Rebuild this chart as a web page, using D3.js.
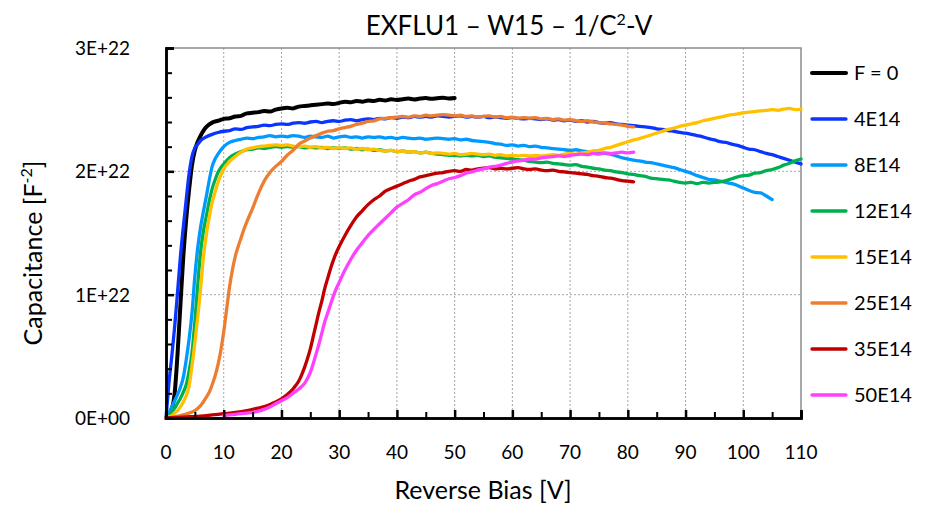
<!DOCTYPE html>
<html>
<head>
<meta charset="utf-8">
<script src="https://cdn.jsdelivr.net/npm/d3@7/dist/d3.min.js"></script>
<style>
  html, body { margin: 0; padding: 0; background: #fff; }
  svg { display: block; font-family: Lato, "Open Sans", sans-serif; }
</style>
</head>
<body>
<svg id="chart" width="937" height="505"></svg>
<script>
// 1/C^2 vs reverse bias for EXFLU1 wafer 15, one curve per fluence.
// Values are given in units of 1E22 F^-2, bias in volts.
const UNIT = 1e22;

const seriesNames = ["F = 0", "4E14", "8E14", "12E14", "15E14", "25E14", "35E14", "50E14"];
const seriesColors = ["#000000", "#0A35FF", "#0099FF", "#00B050", "#FFC000", "#ED7D31", "#C00000", "#FF40FF"];

const xTicks = [0, 10, 20, 30, 40, 50, 60, 70, 80, 90, 100, 110];
const xMinorTicks = [5, 15, 25, 35, 45, 55, 65, 75, 85, 95, 105];
const yTicks = [0, 1e22, 2e22, 3e22];
const yTickLabels = ["0E+00", "1E+22", "2E+22", "3E+22"];
const yMinorTicks = [0.2e22, 0.4e22, 0.6e22, 0.8e22, 1.2e22, 1.4e22, 1.6e22, 1.8e22,
                     2.2e22, 2.4e22, 2.6e22, 2.8e22];

const fluence0 = [[0,0],[0.5,0.03],[1,0.07],[1.5,0.2],[2,0.52],[2.5,0.92],[3,1.31],[3.5,1.61],[4,1.85],[4.5,2.05],
  [5,2.17],[5.5,2.24],[6,2.29],[6.5,2.33],[7,2.36],[7.5,2.38],[8,2.395],[9,2.41],[10,2.425],[11,2.43],[12,2.445],
  [13,2.45],[14,2.47],[15,2.475],[16,2.48],[17,2.49],[18,2.485],[19,2.5],[20,2.51],[21,2.515],[22,2.51],[23,2.525],
  [24,2.53],[25,2.535],[26,2.54],[27,2.545],[28,2.55],[29,2.545],[30,2.555],[31,2.565],[32,2.56],[33,2.57],[34,2.565],
  [35,2.575],[36,2.57],[37,2.58],[38,2.575],[39,2.585],[40,2.578],[41,2.585],[42,2.59],[43,2.583],[44,2.59],[45,2.594],
  [46,2.588],[47,2.593],[48,2.597],[49,2.59],[50,2.594]];

const fluence4 = [[0,0],[0.5,0.28],[1,0.5],[1.5,0.74],[2,1.02],[2.5,1.31],[3,1.55],[3.5,1.77],[4,1.98],[4.5,2.12],
  [5,2.19],[5.5,2.22],[6,2.25],[7,2.28],[8,2.3],[9,2.315],[10,2.325],[11,2.33],[12,2.345],[13,2.34],[14,2.355],
  [15,2.36],[16,2.365],[17,2.375],[18,2.37],[19,2.38],[20,2.385],[21,2.38],[22,2.39],[23,2.395],[24,2.39],[25,2.4],
  [26,2.405],[27,2.395],[28,2.405],[29,2.41],[30,2.405],[31,2.415],[32,2.42],[33,2.41],[34,2.42],[35,2.425],[36,2.42],
  [37,2.43],[38,2.425],[39,2.435],[40,2.43],[41,2.44],[42,2.435],[43,2.445],[44,2.44],[45,2.445],[46,2.44],[47,2.45],
  [48,2.445],[49,2.44],[50,2.445],[51,2.45],[52,2.44],[53,2.445],[54,2.44],[55,2.445],[56,2.435],[57,2.44],[58,2.435],
  [59,2.43],[60,2.435],[61,2.43],[62,2.425],[63,2.43],[64,2.425],[65,2.42],[66,2.425],[67,2.415],[68,2.42],[69,2.41],
  [70,2.415],[71,2.405],[72,2.41],[73,2.4],[74,2.405],[75,2.395],[76,2.39],[77,2.395],[78,2.385],[79,2.38],[80,2.375],
  [81,2.37],[82,2.365],[83,2.36],[84,2.355],[85,2.345],[86,2.34],[87,2.33],[88,2.325],[89,2.315],[90,2.31],[91,2.3],
  [92,2.29],[93,2.28],[94,2.265],[95,2.255],[96,2.24],[97,2.235],[98,2.22],[99,2.21],[100,2.195],[101,2.18],[102,2.175],
  [103,2.16],[104,2.145],[105,2.135],[106,2.12],[107,2.105],[108,2.09],[109,2.075],[110,2.06]];

const fluence8 = [[0,0],[0.5,0.04],[1,0.09],[1.5,0.14],[2,0.19],[2.5,0.25],[3,0.33],[3.5,0.47],[4,0.64],[4.5,0.85],
  [5,1.15],[5.5,1.38],[6,1.55],[6.5,1.68],[7,1.8],[7.5,1.93],[8,2.04],[8.5,2.1],[9,2.14],[10,2.2],[11,2.235],[12,2.25],
  [13,2.26],[14,2.27],[15,2.265],[16,2.275],[17,2.28],[18,2.29],[19,2.28],[20,2.285],[21,2.28],[22,2.29],[23,2.285],
  [24,2.275],[25,2.285],[26,2.28],[27,2.275],[28,2.285],[29,2.27],[30,2.28],[31,2.285],[32,2.275],[33,2.28],[34,2.27],
  [35,2.28],[36,2.275],[37,2.28],[38,2.27],[39,2.275],[40,2.265],[41,2.275],[42,2.27],[43,2.265],[44,2.27],[45,2.26],
  [46,2.265],[47,2.27],[48,2.265],[49,2.26],[50,2.265],[51,2.255],[52,2.26],[53,2.25],[54,2.245],[55,2.24],[56,2.235],
  [57,2.225],[58,2.22],[59,2.21],[60,2.215],[61,2.205],[62,2.21],[63,2.2],[64,2.205],[65,2.195],[66,2.19],[67,2.185],
  [68,2.18],[69,2.175],[70,2.17],[71,2.175],[72,2.165],[73,2.16],[74,2.155],[75,2.15],[76,2.145],[77,2.14],[78,2.125],
  [79,2.11],[80,2.1],[81,2.09],[82,2.085],[83,2.075],[84,2.07],[85,2.06],[86,2.05],[87,2.04],[88,2.03],[89,2.015],
  [90,2.0],[91,1.985],[92,1.965],[93,1.95],[94,1.935],[95,1.93],[96,1.92],[97,1.91],[98,1.9],[99,1.885],[100,1.865],
  [101,1.845],[102,1.83],[103,1.825],[104,1.8],[105,1.77]];

const fluence12 = [[0,0],[0.5,0.02],[1,0.05],[1.5,0.08],[2,0.12],[2.5,0.16],[3,0.21],[3.5,0.27],[4,0.38],[4.5,0.53],
  [5,0.78],[5.5,1.08],[6,1.35],[6.5,1.52],[7,1.64],[7.5,1.76],[8,1.86],[8.5,1.93],[9,1.99],[9.5,2.03],[10,2.06],
  [11,2.11],[12,2.14],[13,2.16],[14,2.175],[15,2.18],[16,2.19],[17,2.185],[18,2.195],[19,2.2],[20,2.195],[21,2.2],
  [22,2.195],[23,2.2],[24,2.19],[25,2.195],[26,2.19],[27,2.195],[28,2.185],[29,2.19],[30,2.185],[31,2.19],[32,2.18],
  [33,2.185],[34,2.175],[35,2.18],[36,2.17],[37,2.175],[38,2.165],[39,2.17],[40,2.16],[41,2.165],[42,2.155],[43,2.16],
  [44,2.15],[45,2.155],[46,2.145],[47,2.14],[48,2.135],[49,2.13],[50,2.13],[51,2.125],[52,2.13],[53,2.125],[54,2.13],
  [55,2.12],[56,2.125],[57,2.115],[58,2.11],[59,2.105],[60,2.1],[61,2.095],[62,2.09],[63,2.08],[64,2.075],[65,2.07],
  [66,2.075],[67,2.065],[68,2.06],[69,2.055],[70,2.05],[71,2.055],[72,2.04],[73,2.035],[74,2.025],[75,2.02],[76,2.01],
  [77,2.005],[78,1.995],[79,1.99],[80,1.98],[81,1.975],[82,1.965],[83,1.96],[84,1.945],[85,1.94],[86,1.935],[87,1.93],
  [88,1.92],[89,1.91],[90,1.905],[91,1.91],[92,1.9],[93,1.91],[94,1.905],[95,1.91],[96,1.915],[97,1.925],[98,1.94],
  [99,1.955],[100,1.965],[101,1.97],[102,1.985],[103,1.99],[104,2.005],[105,2.015],[106,2.03],[107,2.05],[108,2.065],
  [109,2.085],[110,2.1]];

const fluence15 = [[0,0],[0.5,0.01],[1,0.02],[1.5,0.04],[2,0.06],[2.5,0.09],[3,0.13],[3.5,0.18],[4,0.26],[4.5,0.42],
  [5,0.61],[5.5,0.82],[6,1.05],[6.5,1.31],[7,1.49],[7.5,1.63],[8,1.75],[8.5,1.83],[9,1.91],[9.5,1.97],[10,2.02],
  [11,2.08],[12,2.12],[13,2.155],[14,2.18],[15,2.19],[16,2.2],[17,2.205],[18,2.21],[19,2.215],[20,2.21],[21,2.215],
  [22,2.205],[23,2.2],[24,2.205],[25,2.195],[26,2.2],[27,2.19],[28,2.195],[29,2.185],[30,2.19],[31,2.185],[32,2.19],
  [33,2.18],[34,2.185],[35,2.175],[36,2.18],[37,2.17],[38,2.165],[39,2.17],[40,2.16],[41,2.165],[42,2.155],[43,2.16],
  [44,2.15],[45,2.155],[46,2.145],[47,2.15],[48,2.145],[49,2.14],[50,2.145],[51,2.135],[52,2.14],[53,2.145],[54,2.14],
  [55,2.135],[56,2.14],[57,2.13],[58,2.135],[59,2.125],[60,2.13],[61,2.125],[62,2.13],[63,2.125],[64,2.13],[65,2.125],
  [66,2.13],[67,2.135],[68,2.13],[69,2.14],[70,2.145],[71,2.14],[72,2.15],[73,2.155],[74,2.165],[75,2.17],[76,2.185],
  [77,2.195],[78,2.21],[79,2.225],[80,2.24],[81,2.255],[82,2.265],[83,2.28],[84,2.295],[85,2.31],[86,2.325],[87,2.34],
  [88,2.35],[89,2.365],[90,2.375],[91,2.385],[92,2.395],[93,2.41],[94,2.42],[95,2.43],[96,2.44],[97,2.45],[98,2.46],
  [99,2.465],[100,2.475],[101,2.48],[102,2.485],[103,2.49],[104,2.495],[105,2.5],[106,2.495],[107,2.505],[108,2.51],
  [109,2.5],[110,2.505]];

const fluence25 = [[0,0],[1,0.005],[2,0.015],[3,0.025],[4,0.04],[5,0.06],[6,0.1],[7,0.17],[7.5,0.21],[8,0.27],
  [8.5,0.34],[9,0.43],[9.5,0.55],[10,0.7],[10.5,0.88],[11,1.06],[11.5,1.2],[12,1.31],[12.5,1.39],[13,1.46],[13.5,1.53],
  [14,1.59],[15,1.7],[16,1.82],[17,1.92],[18,1.99],[19,2.04],[20,2.08],[21,2.13],[22,2.17],[23,2.22],[24,2.245],
  [25,2.27],[26,2.29],[27,2.31],[28,2.325],[29,2.33],[30,2.345],[31,2.355],[32,2.365],[33,2.38],[34,2.39],[35,2.405],
  [36,2.41],[37,2.425],[38,2.43],[39,2.435],[40,2.44],[41,2.445],[42,2.44],[43,2.45],[44,2.445],[45,2.455],[46,2.45],
  [47,2.455],[48,2.46],[49,2.455],[50,2.45],[51,2.455],[52,2.445],[53,2.45],[54,2.44],[55,2.445],[56,2.45],[57,2.44],
  [58,2.445],[59,2.435],[60,2.44],[61,2.43],[62,2.435],[63,2.43],[64,2.435],[65,2.425],[66,2.43],[67,2.42],[68,2.425],
  [69,2.415],[70,2.42],[71,2.41],[72,2.405],[73,2.41],[74,2.4],[75,2.395],[76,2.39],[77,2.385],[78,2.38],[79,2.375],
  [80,2.365],[81,2.36]];

const fluence35 = [[0,0],[2,0.005],[4,0.01],[6,0.015],[8,0.025],[10,0.035],[12,0.045],[14,0.06],[15,0.07],[16,0.08],
  [17,0.093],[18,0.11],[19,0.13],[20,0.155],[21,0.19],[22,0.235],[22.5,0.265],[23,0.3],[23.5,0.35],[24,0.41],
  [24.5,0.48],[25,0.56],[25.5,0.66],[26,0.76],[26.5,0.86],[27,0.95],[27.5,1.05],[28,1.13],[28.5,1.21],[29,1.28],
  [29.5,1.34],[30,1.39],[31,1.48],[32,1.56],[33,1.63],[34,1.68],[35,1.73],[36,1.77],[37,1.8],[38,1.84],[39,1.86],
  [40,1.88],[41,1.9],[42,1.92],[43,1.935],[44,1.955],[45,1.965],[46,1.975],[47,1.985],[48,1.99],[49,2.0],[50,2.005],
  [51,2.0],[52,2.015],[53,2.01],[54,2.02],[55,2.025],[56,2.03],[57,2.02],[58,2.025],[59,2.02],[60,2.025],[61,2.03],
  [62,2.02],[63,2.015],[64,2.02],[65,2.01],[66,2.005],[67,2.01],[68,2.0],[69,1.995],[70,1.99],[71,1.985],[72,1.98],
  [73,1.975],[74,1.965],[75,1.96],[76,1.95],[77,1.945],[78,1.935],[79,1.925],[80,1.92],[81,1.915]];

const fluence50 = [[10,0.02],[11,0.025],[12,0.03],[13,0.035],[14,0.04],[15,0.045],[16,0.055],[17,0.07],[18,0.09],
  [19,0.115],[20,0.14],[21,0.165],[22,0.2],[23,0.235],[23.5,0.255],[24,0.28],[24.5,0.32],[25,0.37],[25.5,0.44],
  [26,0.52],[26.5,0.6],[27,0.69],[27.5,0.78],[28,0.85],[28.5,0.92],[29,0.99],[29.5,1.05],[30,1.1],[31,1.2],[32,1.285],
  [33,1.36],[34,1.42],[35,1.48],[36,1.53],[37,1.575],[38,1.62],[39,1.665],[40,1.71],[41,1.74],[42,1.77],[43,1.81],
  [44,1.83],[45,1.86],[46,1.885],[47,1.9],[48,1.92],[49,1.94],[50,1.95],[51,1.965],[52,1.985],[53,1.995],[54,2.01],
  [55,2.02],[56,2.035],[57,2.04],[58,2.05],[59,2.065],[60,2.075],[61,2.085],[62,2.09],[63,2.1],[64,2.1],[65,2.11],
  [66,2.115],[67,2.12],[68,2.125],[69,2.12],[70,2.13],[71,2.135],[72,2.14],[73,2.135],[74,2.145],[75,2.14],[76,2.15],
  [77,2.145],[78,2.15],[79,2.155],[80,2.15],[81,2.155]];

const seriesData = [fluence0, fluence4, fluence8, fluence12, fluence15, fluence25, fluence35, fluence50];

// ---- layout ----
const plot = { left: 166, right: 801, top: 48, bottom: 418 };
const svg = d3.select("#chart");

const x = d3.scaleLinear().domain([0, 110]).range([plot.left, plot.right]);
const y = d3.scaleLinear().domain([0, 3e22]).range([plot.bottom, plot.top]);

// dotted grid
const grid = svg.append("g").attr("stroke", "#A6A6A6").attr("stroke-width", 1).attr("stroke-dasharray", "2,2");
grid.selectAll("line.v").data(xTicks.filter(d => d > 0 && d < 110)).join("line")
  .attr("x1", d => x(d)).attr("x2", d => x(d)).attr("y1", plot.top).attr("y2", plot.bottom);
grid.selectAll("line.h").data(yTicks.filter(d => d > 0 && d < 3e22)).join("line")
  .attr("x1", plot.left).attr("x2", plot.right).attr("y1", d => y(d)).attr("y2", d => y(d));

// plot area frame (top and right)
svg.append("path")
  .attr("d", `M${plot.left},${plot.top}H${plot.right}V${plot.bottom}`)
  .attr("fill", "none").attr("stroke", "#8C8C8C").attr("stroke-width", 1.5);

// series
const line = d3.line()
  .x(d => x(d[0]))
  .y(d => y(d[1] * UNIT))
  .curve(d3.curveMonotoneX);

svg.append("g").selectAll("path").data(seriesData).join("path")
  .attr("d", d => line(d))
  .attr("fill", "none")
  .attr("stroke", (d, i) => seriesColors[i])
  .attr("stroke-width", (d, i) => i === 0 ? 4 : 3.3)
  .attr("stroke-linejoin", "round")
  .attr("stroke-linecap", "round");

// axes with inward ticks
const yAxis = d3.axisRight(y).tickValues(yTicks).tickSize(8).tickFormat("");
const gy = svg.append("g").attr("transform", `translate(${plot.left},0)`).call(yAxis);
const yMinor = d3.axisRight(y).tickValues(yMinorTicks).tickSize(6).tickFormat("");
const gym = svg.append("g").attr("transform", `translate(${plot.left},0)`).call(yMinor);

const xAxis = d3.axisTop(x).tickValues(xTicks).tickSize(8).tickFormat("");
const gx = svg.append("g").attr("transform", `translate(0,${plot.bottom})`).call(xAxis);
const xMinor = d3.axisTop(x).tickValues(xMinorTicks).tickSize(6).tickFormat("");
const gxm = svg.append("g").attr("transform", `translate(0,${plot.bottom})`).call(xMinor);

[gy, gym, gx, gxm].forEach(g => {
  g.select(".domain").attr("stroke", "#000").attr("stroke-width", 2.5);
  g.selectAll(".tick line").attr("stroke", "#000").attr("stroke-width", 2.5);
});
gym.selectAll(".tick line").attr("stroke-width", 2);
gxm.selectAll(".tick line").attr("stroke-width", 2);

// tick labels
svg.append("g").selectAll("text").data(yTicks).join("text")
  .attr("x", plot.left - 36).attr("y", d => y(d)).attr("dy", "0.36em")
  .attr("text-anchor", "end").attr("font-size", 19).attr("fill", "#000")
  .text((d, i) => yTickLabels[i]);

svg.append("g").selectAll("text").data(xTicks).join("text")
  .attr("x", d => x(d)).attr("y", plot.bottom + 41)
  .attr("text-anchor", "middle").attr("font-size", 19).attr("fill", "#000")
  .text(d => d);

// title
const title = svg.append("text").attr("x", 509).attr("y", 35)
  .attr("text-anchor", "middle").attr("font-size", 26).attr("fill", "#000");
title.append("tspan").text("EXFLU1 \u2013 W15 \u2013 1/C");
title.append("tspan").attr("font-size", 16).attr("dy", -10).text("2");
title.append("tspan").attr("dy", 10).text("-V");

// axis titles
svg.append("text").attr("x", 483).attr("y", 499)
  .attr("text-anchor", "middle").attr("font-size", 25).attr("fill", "#000")
  .text("Reverse Bias [V]");

const yt = svg.append("text").attr("transform", "translate(42,253) rotate(-90)")
  .attr("text-anchor", "middle").attr("font-size", 25).attr("fill", "#000");
yt.append("tspan").text("Capacitance [F");
yt.append("tspan").attr("font-size", 16).attr("dy", -10).text("-2");
yt.append("tspan").attr("dy", 10).text("]");

// legend
const legend = svg.append("g");
const rows = legend.selectAll("g").data(seriesNames).join("g")
  .attr("transform", (d, i) => `translate(812,${73 + i * 46})`);
rows.append("line").attr("x1", 0).attr("x2", 34).attr("y1", 0).attr("y2", 0)
  .attr("stroke", (d, i) => seriesColors[i])
  .attr("stroke-width", (d, i) => i === 0 ? 4 : 3.3)
  .attr("stroke-linecap", "round");
rows.append("text").attr("x", 42).attr("dy", "0.36em")
  .attr("font-size", 20).attr("fill", "#000").text(d => d);
</script>
</body>
</html>
